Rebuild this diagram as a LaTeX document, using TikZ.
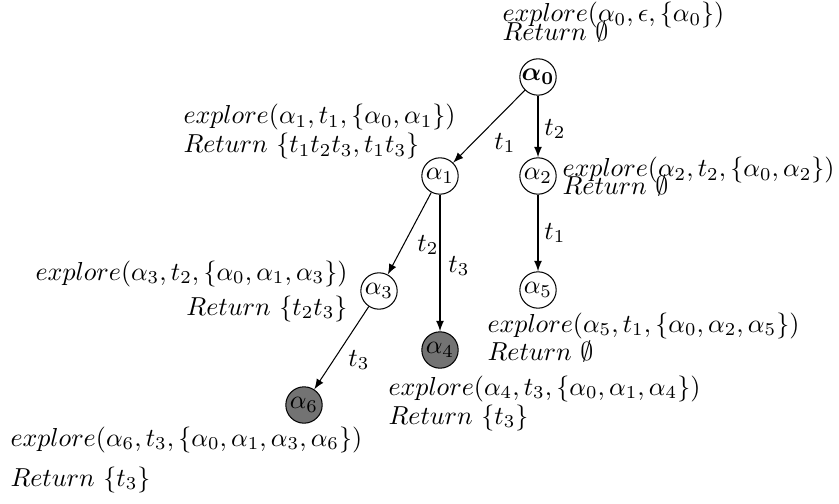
\documentclass[tikz,border=0pt]{standalone}
\usepackage{amsmath,bm}
\usetikzlibrary{arrows}
\begin{document}
\begin{tikzpicture}[x=0.385pt,y=-0.385pt,
  st/.style={circle,draw,inner sep=0pt,minimum size=14pt},
  dead/.style={st,fill=black!55},
  tw/.style={inner sep=0pt,anchor=base west},
  te/.style={inner sep=0pt,anchor=base east},
  el/.style={inner sep=0pt},
  arr/.style={-latex}]
\useasboundingbox (0,0) rectangle (839,504);
% states
\node[st]   (a0) at (538,77)  {$\bm{\alpha_0}$};
\node[st]   (a1) at (440,176) {$\alpha_1$};
\node[st]   (a2) at (538,176) {$\alpha_2$};
\node[st]   (a3) at (379,291) {$\alpha_3$};
\node[dead] (a4) at (440,350) {$\alpha_4$};
\node[st]   (a5) at (538,290) {$\alpha_5$};
\node[dead] (a6) at (304,405) {$\alpha_6$};
% transitions
\draw[arr] (a0) -- (a1);
\draw[arr] (a0) -- (a2);
\draw[arr] (a2) -- (a5);
\draw[arr] (a1) -- (a3);
\draw[arr] (a1.south) -- (a4.north);
\draw[arr] (a3) -- (a6);
% edge labels
\node[el] (e01) at (505,143) {$t_1$};
\node[el] (e02) at (555,129) {$t_2$};
\node[el] (e25) at (555,233) {$t_1$};
\node[el] (e13) at (428,245) {$t_2$};
\node[el] (e14) at (459,266) {$t_3$};
\node[el] (e36) at (359,360) {$t_3$};
% explore labels
\node[tw] (l0a) at (502,22)  {$explore(\alpha_0,\epsilon,\{\alpha_0\})$};
\node[tw] (l0b) at (502,41)  {$Return\ \emptyset$};
\node[tw] (l1a) at (183,124) {$explore(\alpha_1,t_1,\{\alpha_0,\alpha_1\})$};
\node[tw] (l1b) at (183,153) {$Return\ \{t_1t_2t_3,t_1t_3\}$};
\node[tw] (l2a) at (562,177) {$explore(\alpha_2,t_2,\{\alpha_0,\alpha_2\})$};
\node[tw] (l2b) at (562,195) {$Return\ \emptyset$};
\node[te] (l3a) at (348,280) {$explore(\alpha_3,t_2,\{\alpha_0,\alpha_1,\alpha_3\})$};
\node[te] (l3b) at (348,315) {$Return\ \{t_2t_3\}$};
\node[tw] (l5a) at (487,332) {$explore(\alpha_5,t_1,\{\alpha_0,\alpha_2,\alpha_5\})$};
\node[tw] (l5b) at (487,360) {$Return\ \emptyset$};
\node[tw] (l4a) at (388,395) {$explore(\alpha_4,t_3,\{\alpha_0,\alpha_1,\alpha_4\})$};
\node[tw] (l4b) at (388,424) {$Return\ \{t_3\}$};
\node[tw] (l6a) at (10,446)  {$explore(\alpha_6,t_3,\{\alpha_0,\alpha_1,\alpha_3,\alpha_6\})$};
\node[tw] (l6b) at (10,486)  {$Return\ \{t_3\}$};
\end{tikzpicture}
\end{document}
